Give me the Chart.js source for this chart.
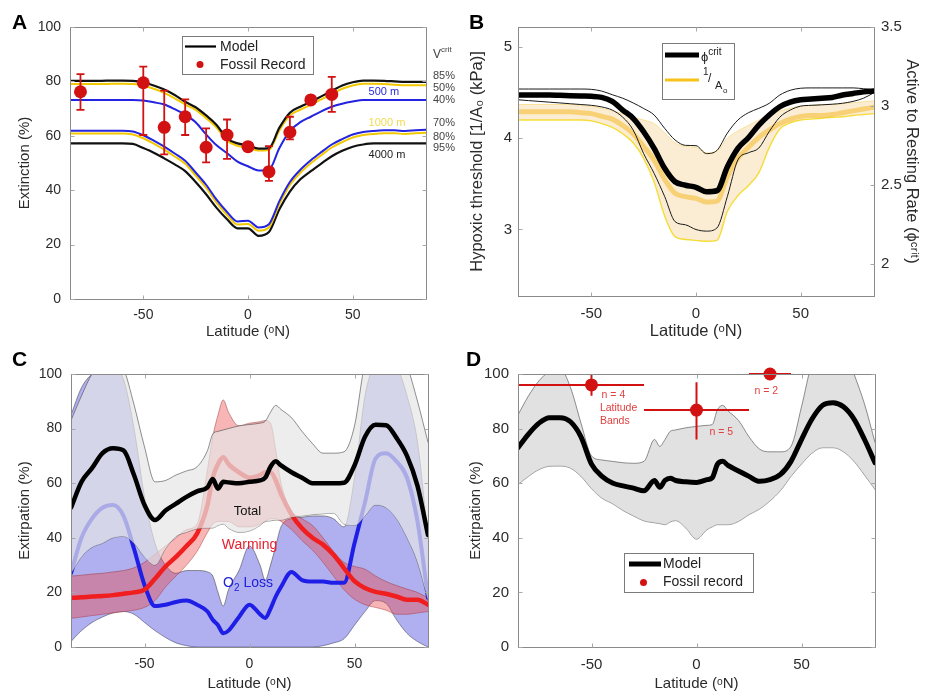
<!DOCTYPE html>
<html>
<head>
<meta charset="utf-8">
<script src="https://cdn.jsdelivr.net/npm/chart.js@4.4.0/dist/chart.umd.min.js"></script>
<style>
body { margin: 0; background: #fff; }
#wrap { position: relative; width: 933px; height: 691px; }
canvas { position: absolute; }
</style>
</head>
<body>
<div id="wrap">
  <canvas id="chartA" width="466" height="345" style="left:0;top:0"></canvas>
  <canvas id="chartB" width="467" height="345" style="left:466px;top:0"></canvas>
  <canvas id="chartC" width="466" height="346" style="left:0;top:345px"></canvas>
  <canvas id="chartD" width="467" height="346" style="left:466px;top:345px"></canvas>
</div>
<script>
// ---------- data ----------
const latTicks = [-50, 0, 50];
const pctTicks = [0, 20, 40, 60, 80, 100];
const bLeftTicks = [3, 4, 5];
const bRightTicks = [2, 2.5, 3, 3.5];

// panel A : extinction vs latitude, for several Vcrit / depths
const latA = [-85,-80,-75,-70,-65,-60,-55,-50,-45,-40,-35,-30,-25,-20,-15,-10,-5,0,5,10,15,20,25,30,35,40,45,50,55,60,65,70,75,80,85];
const a85 = [80.2,80.2,80.2,80.2,80.3,80.3,80.2,79.7,78.5,77,75,72.5,70.5,67.5,64,59,57.2,56.5,55.3,55.5,63,68.5,70.7,72.5,74.5,76.5,78.5,79.7,80.3,80.3,80.2,80,79.8,79.8,79.8];
const a50 = [79,79,79,79,79.1,79.1,79,78.5,77.3,75.8,73.8,71.5,69.5,66.5,63,58.2,56.3,55.6,54.6,54.8,62,67.5,69.6,71.4,73.4,75.4,77.3,78.5,79.1,79.1,79,78.8,78.6,78.6,78.6];
const a40 = [73.2,73.2,73.2,73.2,73.2,73.2,73.2,73,72.3,71.5,69.8,67.8,65,60.5,56.5,53.6,50.5,48.8,47.2,47.5,55.5,61.8,65,67,69,70.7,71.8,72.6,73.2,73.2,73.2,73.2,73.2,73.2,73.2];
const a70 = [61.9,61.9,61.9,61.9,61.9,61.9,61.6,60.2,58.2,56,53.5,50.8,46.5,42,36.5,32,28.5,28.8,26.3,27.5,36,43,47.5,51,54,56.8,58.8,60.5,61.4,61.8,62,62,61.8,62,62.2];
const a80 = [60.8,60.8,60.8,60.8,60.8,60.8,60.5,59.1,57.1,54.9,52.4,49.7,45.4,40.9,35.4,30.9,27.4,27.6,25.1,26.4,34.9,41.9,46.4,49.9,52.9,55.7,57.7,59.4,60.3,60.7,60.9,60.9,60.7,60.9,61.1];
const a95 = [57.2,57.2,57.2,57.2,57.2,57.2,57,55.5,53.8,51.7,49.5,47,43,38.5,33.5,29.3,26,26,23.2,24.6,33,39.5,44,47,49.8,52.5,54.5,56,56.8,57.2,57.2,57.2,57.2,57.2,57.2];
const fosLat = [-80,-50,-40,-30,-20,-10,0,10,20,30,40];
const fosVal = [76.2,79.5,63.1,67,55.8,60.3,56,46.8,61.3,73.2,75.2];
const fosHi  = [82.7,85.4,76.6,73.4,62.7,66,56,56.2,67,73.2,81.7];
const fosLo  = [69.5,60.3,53.2,60.3,50.2,51.5,56,43.4,58.7,73.2,68.8];
const aLabels = ['85%','50%','40%','70%','80%','95%'];
const aLabelAt = [82, 77.7, 73, 64.7, 59.6, 55.6];

// panel B : phi crit (right axis) and 1/A0 (left axis)
const phiMean = [3.07,3.07,3.07,3.07,3.068,3.066,3.064,3.062,3.055,3.03,2.975,2.923,2.838,2.733,2.607,2.522,2.5,2.487,2.459,2.465,2.617,2.733,2.8,2.88,2.944,2.996,3.025,3.04,3.045,3.05,3.055,3.07,3.08,3.09,3.095];
const phiUp = [3.108,3.108,3.108,3.108,3.108,3.108,3.108,3.106,3.095,3.072,3.05,3.02,2.985,2.944,2.86,2.786,2.752,2.75,2.70,2.72,2.83,2.912,2.958,2.986,3.018,3.07,3.10,3.113,3.115,3.115,3.115,3.115,3.115,3.11,3.102];
const phiLo = [3.04,3.035,3.03,3.025,3.02,3.015,3.01,3.005,2.995,2.975,2.93,2.849,2.70,2.575,2.43,2.27,2.25,2.22,2.21,2.23,2.43,2.66,2.705,2.735,2.84,2.93,2.975,3.0,3.005,3.008,3.012,3.018,3.03,3.05,3.085];
const invMean = [4.29,4.29,4.29,4.29,4.29,4.29,4.28,4.27,4.24,4.21,4.14,4.05,3.91,3.76,3.55,3.395,3.36,3.34,3.30,3.31,3.58,3.78,3.9,4.01,4.09,4.16,4.21,4.24,4.25,4.25,4.26,4.28,4.3,4.32,4.34];
const invUp = [4.37,4.37,4.37,4.37,4.37,4.37,4.36,4.35,4.33,4.3,4.27,4.23,4.2,4.16,4.06,3.95,3.91,3.9,3.84,3.86,4.0,4.08,4.14,4.2,4.25,4.3,4.33,4.35,4.36,4.37,4.37,4.38,4.39,4.4,4.41];
const invLo = [4.2,4.2,4.2,4.2,4.2,4.2,4.2,4.19,4.16,4.12,4.05,3.95,3.78,3.52,3.15,2.92,2.89,2.88,2.87,2.88,3.2,3.37,3.48,3.62,3.9,4.1,4.17,4.2,4.21,4.22,4.23,4.235,4.25,4.26,4.27];

// panel C : extirpation by mechanism
const latC = [-85,-80,-75,-70,-65,-60,-55,-50,-45,-40,-35,-30,-25,-20,-17.5,-15,-12.5,-10,-5,0,5,7.5,10,12.5,15,20,25,30,35,40,45,50,55,60,65,70,75,80,85];
const totMean = [51,60.5,65.5,71,72.8,72,63,52,46.5,50,52.5,55,57,58.5,61.5,58,60.5,60.3,60,60.5,61,62,66,68,66.5,64,62,60,60,60,60.2,66.5,77,81.4,81.2,76.6,70,59,41];
const totUp = [83,92,100,104,106,102,88.8,73.3,60.5,61,63,64.5,66,72,78,79,79.5,80,81,81.5,82,82.7,86,88.5,87,84,79,74.5,71,71,71.5,81,104,110,112,110,103,90,75];
const totLo = [27,33,36.5,38,40,40.5,38,33,30,36,40.5,42,43.3,43.6,43.6,44.5,45,43.5,42,42.5,44.5,46,46.2,46.5,46.5,47.5,48,48.5,48.8,49,45,44.5,48,52,51,47,40,31,17];
const warmMean = [18,18.2,18.5,18.7,19,19.5,20,21,25,29.5,33,37,41.5,52,62,67,69.5,67,64,62,63,64,64,61,56,48.5,43.5,40,37.5,33.8,28.9,24.1,21.6,20.2,19.5,18.5,17.3,17.3,15.5];
const warmUp = [26,26.3,26.7,27,27.5,28,29,31,34,37,40,43,45,65,77,85,90.5,86,81,82,82.5,83,82,72,60,50,47,44.5,40,35,31,29.5,28.5,26,24,22.5,21.2,20,18];
const warmLo = [10.5,11,11.5,12,12.5,13,13.5,14.5,17,22,26,30,35,42,45,46,46,46,44,44,45,46,47,47,46,43,39,35.5,31,26,21,17.5,15.5,14.5,13.5,12,12,12.5,13];
const o2Mean = [27,40,47,51,52,48,36,22.7,15,15.5,16.5,17,15.5,13,10,8,5,6,11,15.5,12,10.6,14,18.5,22,27.5,24.5,24,24,23.5,23.5,38,53,69,71,68,62,46,18];
const o2Up = [85,95,100,102,102,98,80,55,38,30,27,28,28,27.5,26,20,15,21,28,37,30,24.5,30,37,44,47,47.5,48,48,47,44,62,92,104,106,103,92,75,40];
const o2Lo = [2,6,9,11,12.5,13,12,9,6,3.5,1.5,0.5,0,0,0,0,0,0,0,0,0,0,0,0,0,0,0,0,0.5,1.5,3,8,13,17,16,10,5,2,0];

// panel D : model vs fossil record (same latitudes as C)
const dMean = [73,78,82,84,84,82.5,77,67,62.5,60.1,59,58.2,57.2,61,58.5,61,61.8,61,60.5,60.3,61.3,62,67,68,66.5,64.5,62.5,60.7,61.3,63.2,68,76,83.5,88.5,89.5,88,83.5,76,67.5];
const dUp = [85,92,97.5,101,102,95,82,70,68.5,68,67.5,67.3,68,76,73.5,76,79,79.5,80.3,80.8,81.2,81.5,87,88.5,86.5,83,77,72.5,71.5,71.5,73.5,88,104,110,112,110,100,89,75];
const dLo = [59.5,62.5,65,66.2,66.3,65.5,62.5,58,54.5,52.5,50,48,46.2,45.5,45.2,44.8,45.8,46.3,43.5,39.5,43,44,44.8,44.8,44.8,46,48.5,50.5,53.5,57.3,62.5,67,71,73,73,71.5,68,63,57.7];
const dFosLat = [-50, 0, 35];
const dFosVal = [96, 86.8, 100];
const dFosXLo = [-85, -25, 25];
const dFosXHi = [-25, 25, 45];
const dFosYLo = [92, 76, 99];
const dFosYHi = [100, 97, 100];

// ---------- helpers ----------
const FAM = '"Liberation Sans", Arial, Helvetica, sans-serif';
const RED = '#d21212';
Chart.defaults.font.family = FAM;
Chart.defaults.color = '#2b2b2b';

function font(size, bold) { return (bold ? 'bold ' : '') + size + 'px ' + FAM; }
function pts(lats, vals) { return vals.map((v, i) => ({x: lats[i], y: v})); }
function fixTicks(list) { return s => { s.ticks = list.map(v => ({value: v})); }; }

function line(lats, vals, color, width, order, extra) {
    return Object.assign({
        data: pts(lats, vals), borderColor: color, borderWidth: width,
        pointRadius: 0, fill: false, order: order,
        cubicInterpolationMode: 'monotone', borderJoinStyle: 'round', borderCapStyle: 'round'
    }, extra || {});
}

function xAxis(o) {
    return {
        type: 'linear', min: -85, max: 85,
        afterBuildTicks: fixTicks(latTicks),
        afterFit: s => { s.height = o.h; },
        grid: {display: false, drawTicks: false},
        border: {display: false},
        ticks: {font: {size: o.tick}, padding: o.tickPad, maxRotation: 0, autoSkip: false, callback: v => String(v)},
        title: {display: true, text: 'Latitude (ᵒN)', font: {size: o.title, lineHeight: 1}, padding: {top: 0, bottom: o.titlePad}}
    };
}

function yAxis(o) {
    return {
        type: 'linear', position: o.pos || 'left', min: o.min, max: o.max,
        afterBuildTicks: fixTicks(o.list),
        afterFit: s => { s.width = o.w; },
        grid: {display: false, drawTicks: false},
        border: {display: false},
        ticks: {font: {size: o.tick}, padding: o.tickPad, autoSkip: false, callback: v => String(v)},
        title: {display: true, text: o.text, font: {size: o.title, lineHeight: 1}, padding: {top: o.titlePad, bottom: 0}}
    };
}

function txt(ctx, s, x, y, size, color, align, bold) {
    ctx.save();
    ctx.font = font(size, bold);
    ctx.fillStyle = color;
    ctx.textAlign = align || 'left';
    ctx.textBaseline = 'middle';
    ctx.fillText(s, x, y);
    ctx.restore();
}

// parts: [text, size, dy]
function rich(ctx, parts, x, y, color, align) {
    ctx.save();
    ctx.fillStyle = color;
    ctx.textBaseline = 'alphabetic';
    ctx.textAlign = 'left';
    let total = 0;
    parts.forEach(p => { ctx.font = font(p[1]); total += ctx.measureText(p[0]).width; });
    let cx = align === 'center' ? x - total / 2 : x;
    parts.forEach(p => {
        ctx.font = font(p[1]);
        ctx.fillText(p[0], cx, y + (p[2] || 0));
        cx += ctx.measureText(p[0]).width;
    });
    ctx.restore();
}

function box(ctx, x, y, w, h) {
    ctx.save();
    ctx.fillStyle = '#fff';
    ctx.fillRect(x, y, w, h);
    ctx.strokeStyle = '#7a7a7a';
    ctx.lineWidth = 1;
    ctx.strokeRect(x + 0.5, y + 0.5, w, h);
    ctx.restore();
}

function seg(ctx, x1, y1, x2, y2, color, width) {
    ctx.save();
    ctx.strokeStyle = color;
    ctx.lineWidth = width;
    ctx.beginPath();
    ctx.moveTo(x1, y1);
    ctx.lineTo(x2, y2);
    ctx.stroke();
    ctx.restore();
}

function dot(ctx, x, y, r, color) {
    ctx.save();
    ctx.fillStyle = color;
    ctx.beginPath();
    ctx.arc(x, y, r, 0, Math.PI * 2);
    ctx.fill();
    ctx.restore();
}

// box around the axes + small inward ticks (matlab style)
const framePlugin = {
    id: 'frame',
    afterDatasetsDraw(chart) {
        const ctx = chart.ctx, a = chart.chartArea;
        const L = Math.round(a.left) + 0.5, R = Math.round(a.right) + 0.5;
        const T = Math.round(a.top) + 0.5, B = Math.round(a.bottom) + 0.5;
        ctx.save();
        ctx.strokeStyle = '#8a8a8a';
        ctx.lineWidth = 1;
        ctx.strokeRect(L, T, R - L, B - T);
        ctx.strokeStyle = '#a8a8a8';
        ctx.beginPath();
        const x = chart.scales.x;
        x.ticks.forEach(t => {
            const px = Math.round(x.getPixelForValue(t.value)) + 0.5;
            ctx.moveTo(px, B); ctx.lineTo(px, B - 4);
            ctx.moveTo(px, T); ctx.lineTo(px, T + 4);
        });
        const yl = chart.scales.y, yr = chart.scales.y2 || chart.scales.y;
        yl.ticks.forEach(t => {
            const py = Math.round(yl.getPixelForValue(t.value)) + 0.5;
            ctx.moveTo(L, py); ctx.lineTo(L + 4, py);
        });
        yr.ticks.forEach(t => {
            const py = Math.round(yr.getPixelForValue(t.value)) + 0.5;
            ctx.moveTo(R, py); ctx.lineTo(R - 4, py);
        });
        ctx.stroke();
        ctx.restore();
    }
};

const baseOpts = {
    responsive: false,
    devicePixelRatio: 1,
    animation: false,
    events: [],
    plugins: {legend: {display: false}, tooltip: {enabled: false}}
};

// ---------- panel A ----------
const errA = {
    id: 'errA',
    beforeDatasetDraw(chart, args) {
        if (args.index !== 0) return;
        const ctx = chart.ctx, x = chart.scales.x, y = chart.scales.y;
        ctx.save();
        ctx.strokeStyle = RED;
        ctx.lineWidth = 1.8;
        fosLat.forEach((lat, i) => {
            if (fosHi[i] === fosLo[i]) return;
            const px = x.getPixelForValue(lat);
            const p1 = y.getPixelForValue(fosLo[i]), p2 = y.getPixelForValue(fosHi[i]);
            ctx.beginPath();
            ctx.moveTo(px, p1); ctx.lineTo(px, p2);
            ctx.moveTo(px - 4, p1); ctx.lineTo(px + 4, p1);
            ctx.moveTo(px - 4, p2); ctx.lineTo(px + 4, p2);
            ctx.stroke();
        });
        ctx.restore();
    }
};

const extrasA = {
    id: 'extrasA',
    afterDraw(chart) {
        const ctx = chart.ctx, xs = chart.scales.x, ys = chart.scales.y;
        txt(ctx, 'A', 12, 23, 21, '#000', 'left', true);
        box(ctx, 182, 36, 131, 38);
        seg(ctx, 185, 46.5, 216, 46.5, '#000', 2.2);
        txt(ctx, 'Model', 220, 47, 14, '#222');
        dot(ctx, 200, 64.5, 3.5, RED);
        txt(ctx, 'Fossil Record', 220, 65, 14, '#222');
        rich(ctx, [['V', 12], ['crit', 8, -6]], 433, 58, '#444');
        aLabels.forEach((s, i) => txt(ctx, s, 433, ys.getPixelForValue(aLabelAt[i]), 11, '#444'));
        txt(ctx, '500 m', xs.getPixelForValue(57.6), ys.getPixelForValue(76.1), 11, '#2a2ad8');
        txt(ctx, '1000 m', xs.getPixelForValue(57.6), ys.getPixelForValue(64.7), 11, '#f0dc50');
        txt(ctx, '4000 m', xs.getPixelForValue(57.6), ys.getPixelForValue(52.9), 11, '#222');
    }
};

new Chart(document.getElementById('chartA'), {
    type: 'line',
    data: {datasets: [
        {data: pts(fosLat, fosVal), showLine: false, pointRadius: 6.5, pointBackgroundColor: RED, pointBorderWidth: 0, order: 0},
        line(latA, a85, '#111', 2.2, 1),
        line(latA, a50, '#f2c800', 2, 2),
        line(latA, a40, '#2323e0', 2, 3),
        line(latA, a70, '#2323e0', 2, 4),
        line(latA, a80, '#f2c800', 2, 5),
        line(latA, a95, '#111', 2.2, 6)
    ]},
    options: Object.assign({}, baseOpts, {
        layout: {padding: {left: 0, right: 40, top: 27, bottom: 0}},
        scales: {
            x: xAxis({h: 46, tick: 14, tickPad: 8, title: 15, titlePad: 6}),
            y: yAxis({w: 70, min: 0, max: 100, list: pctTicks, tick: 14, tickPad: 9, text: 'Extinction (%)', title: 15, titlePad: 17})
        }
    }),
    plugins: [errA, framePlugin, extrasA]
});

// ---------- panel B ----------
const extrasB = {
    id: 'extrasB',
    afterDraw(chart) {
        const ctx = chart.ctx;
        txt(ctx, 'B', 3, 23, 21, '#000', 'left', true);
        box(ctx, 196, 43, 72, 56);
        seg(ctx, 199, 55, 233, 55, '#000', 5);
        rich(ctx, [['ϕ', 13], ['crit', 10, -6]], 235, 61, '#222');
        seg(ctx, 199, 80, 233, 80, '#f7c21a', 3);
        txt(ctx, '1', 237, 72, 10, '#222');
        txt(ctx, '/', 242, 79, 12, '#222');
        txt(ctx, 'A', 249, 86, 11, '#222');
        txt(ctx, 'o', 257, 91, 8, '#222');
    }
};

new Chart(document.getElementById('chartB'), {
    type: 'line',
    data: {datasets: [
        line(latA, invLo, 'rgba(245,222,30,0.9)', 1.4, 9, {yAxisID: 'y'}),
        line(latA, invUp, 'rgba(245,205,80,0.5)', 1, 8, {yAxisID: 'y', fill: 0, backgroundColor: 'rgba(240,185,90,0.26)'}),
        line(latA, invMean, 'rgba(244,185,40,0.55)', 5, 7, {yAxisID: 'y'}),
        line(latA, phiLo, '#1a1a1a', 1, 5, {yAxisID: 'y2'}),
        line(latA, phiUp, '#1a1a1a', 1, 4, {yAxisID: 'y2'}),
        line(latA, phiMean, '#000', 5.5, 3, {yAxisID: 'y2'})
    ]},
    options: Object.assign({}, baseOpts, {
        layout: {padding: {left: 0, right: 0, top: 27, bottom: 0}},
        scales: {
            x: xAxis({h: 49, tick: 15, tickPad: 9, title: 16.5, titlePad: 5}),
            y: yAxis({w: 52, min: 2.27, max: 5.22, list: bLeftTicks, tick: 15, tickPad: 6, text: 'Hypoxic threshold [1/A₀ (kPa)]', title: 16.5, titlePad: 3.5}),
            y2: yAxis({pos: 'right', w: 59, min: 1.8, max: 3.5, list: bRightTicks, tick: 15, tickPad: 7, text: 'Active to Resting Rate (ϕᶜʳⁱᵗ)', title: 16.5, titlePad: 13.5})
        }
    }),
    plugins: [framePlugin, extrasB]
});

// ---------- panel C ----------
const EDGE = 'rgba(70,70,70,0.75)';
const extrasC = {
    id: 'extrasC',
    afterDraw(chart) {
        const ctx = chart.ctx, xs = chart.scales.x, ys = chart.scales.y;
        txt(ctx, 'C', 12, 15, 21, '#000', 'left', true);
        txt(ctx, 'Total', xs.getPixelForValue(-1), ys.getPixelForValue(49.6), 13, '#111', 'center');
        txt(ctx, 'Warming', xs.getPixelForValue(0), ys.getPixelForValue(37.4), 14, '#e8202e', 'center');
        rich(ctx, [['O', 14], ['2', 10, 4], [' Loss', 14]], xs.getPixelForValue(-0.7), ys.getPixelForValue(23.8) + 5, '#2020d8', 'center');
    }
};

new Chart(document.getElementById('chartC'), {
    type: 'line',
    data: {datasets: [
        line(latC, o2Lo, EDGE, 0.8, 20),
        line(latC, o2Up, EDGE, 0.8, 19, {fill: 0, backgroundColor: 'rgba(80,80,225,0.45)'}),
        line(latC, warmLo, 'rgba(150,50,50,0.6)', 0.8, 18),
        line(latC, warmUp, 'rgba(150,50,50,0.6)', 0.8, 17, {fill: 2, backgroundColor: 'rgba(235,70,70,0.4)'}),
        line(latC, o2Mean, '#1e1ee6', 4, 16),
        line(latC, warmMean, '#f01e1e', 4.5, 15),
        line(latC, totLo, EDGE, 0.8, 14),
        line(latC, totUp, EDGE, 0.8, 13, {fill: 6, backgroundColor: 'rgba(230,230,230,0.7)'}),
        line(latC, totMean, '#000', 4.5, 12)
    ]},
    options: Object.assign({}, baseOpts, {
        layout: {padding: {left: 0, right: 38, top: 29, bottom: 0}},
        scales: {
            x: xAxis({h: 44, tick: 14, tickPad: 9, title: 15, titlePad: 0}),
            y: yAxis({w: 71, min: 0, max: 100, list: pctTicks, tick: 14, tickPad: 9, text: 'Extirpation (%)', title: 15, titlePad: 17})
        }
    }),
    plugins: [framePlugin, extrasC]
});

// ---------- panel D ----------
const errD = {
    id: 'errD',
    beforeDatasetDraw(chart, args) {
        if (args.index !== 3) return;
        const ctx = chart.ctx, x = chart.scales.x, y = chart.scales.y;
        ctx.save();
        ctx.strokeStyle = RED;
        ctx.lineWidth = 2;
        dFosLat.forEach((lat, i) => {
            const px = x.getPixelForValue(lat), py = y.getPixelForValue(dFosVal[i]);
            ctx.beginPath();
            ctx.moveTo(x.getPixelForValue(dFosXLo[i]), py);
            ctx.lineTo(x.getPixelForValue(dFosXHi[i]), py);
            ctx.moveTo(px, y.getPixelForValue(dFosYLo[i]));
            ctx.lineTo(px, y.getPixelForValue(dFosYHi[i]));
            ctx.stroke();
        });
        ctx.restore();
    }
};

const extrasD = {
    id: 'extrasD',
    afterDraw(chart) {
        const ctx = chart.ctx, xs = chart.scales.x, ys = chart.scales.y;
        txt(ctx, 'D', 0, 15, 21, '#000', 'left', true);
        const c = '#e04040';
        txt(ctx, 'n = 4', xs.getPixelForValue(-45.2), ys.getPixelForValue(92.3), 10.5, c);
        txt(ctx, 'Latitude', xs.getPixelForValue(-46), ys.getPixelForValue(87.5), 10.5, c);
        txt(ctx, 'Bands', xs.getPixelForValue(-46), ys.getPixelForValue(82.7), 10.5, c);
        txt(ctx, 'n = 5', xs.getPixelForValue(6.2), ys.getPixelForValue(78.8), 10.5, c);
        txt(ctx, 'n = 2', xs.getPixelForValue(27.6), ys.getPixelForValue(93.9), 10.5, c);
        box(ctx, 158, 208, 129, 39);
        seg(ctx, 163, 219, 195, 219, '#000', 5);
        txt(ctx, 'Model', 197, 219, 14, '#222');
        dot(ctx, 177.5, 237.5, 3.5, RED);
        txt(ctx, 'Fossil record', 197, 237.5, 14, '#222');
    }
};

new Chart(document.getElementById('chartD'), {
    type: 'line',
    data: {datasets: [
        line(latC, dLo, EDGE, 0.8, 5),
        line(latC, dUp, EDGE, 0.8, 4, {fill: 0, backgroundColor: 'rgba(205,205,205,0.6)'}),
        line(latC, dMean, '#000', 5, 2),
        {data: pts(dFosLat, dFosVal), showLine: false, pointRadius: 6.5, pointBackgroundColor: RED, pointBorderWidth: 0, order: 0, clip: false}
    ]},
    options: Object.assign({}, baseOpts, {
        layout: {padding: {left: 0, right: 58, top: 29, bottom: 0}},
        scales: {
            x: xAxis({h: 44, tick: 15, tickPad: 9, title: 15, titlePad: 0}),
            y: yAxis({w: 52, min: 0, max: 100, list: pctTicks, tick: 15, tickPad: 9, text: 'Extirpation (%)', title: 15, titlePad: 2.5})
        }
    }),
    plugins: [errD, framePlugin, extrasD]
});
</script>
</body>
</html>
